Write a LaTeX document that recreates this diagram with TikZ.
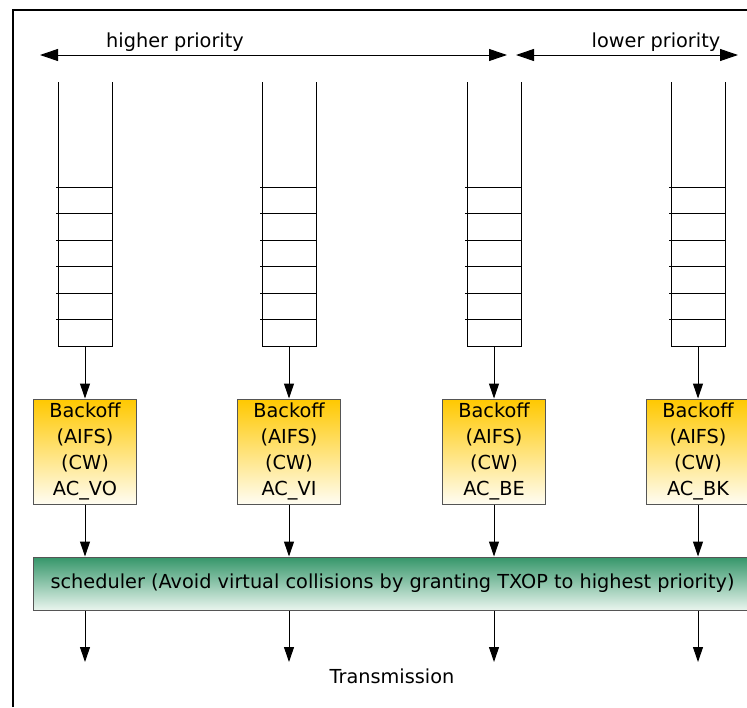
\documentclass[tikz,border=0pt]{standalone}
\usepackage{fontspec}
\setmainfont{DejaVu Sans}
\usetikzlibrary{arrows.meta,positioning,calc}
\definecolor{backoffTop}{HTML}{FFC800}
\definecolor{backoffBottom}{HTML}{FFFDF2}
\definecolor{schedTop}{HTML}{35966A}
\definecolor{schedBottom}{HTML}{E9F5EE}
\definecolor{edgeGray}{HTML}{555555}

\begin{document}
\begin{tikzpicture}[x=1pt, y=-1pt, >={Triangle[length=15pt,width=10pt]}]
\useasboundingbox (0,0) rectangle (747,707);
\tikzset{
  backoffbox/.style={draw=edgeGray, line width=1pt, top color=backoffTop, bottom color=backoffBottom,
    minimum width=103, minimum height=105, inner sep=0pt, align=center,
    font=\fontsize{19.3}{26}\selectfont},
  schedbox/.style={draw=edgeGray, line width=1pt, top color=schedTop, bottom color=schedBottom,
    minimum width=718, minimum height=53, inner sep=0pt, anchor=west,
    font=\fontsize{19.3}{26}\selectfont},
  lbl/.style={font=\fontsize{19.3}{26}\selectfont, inner sep=0pt},
  flow/.style={->, line width=1pt},
  span/.style={{Triangle[length=18pt,width=12pt]}-{Triangle[length=18pt,width=12pt]}, line width=1pt}
}
% frame, cut off at the right
\draw[line width=2pt] (13,707) -- (13,10) -- (760,10);
% priority arrows
\coordinate (hiL) at (40,55);
\coordinate (hiR) at (507,55);
\coordinate (loL) at (516,55);
\coordinate (loR) at (738,55);
\draw[span] (hiL) -- (hiR);
\draw[span] (loL) -- (loR);
\node[lbl] (hitxt) at (175,42) {higher priority};
\node[lbl] (lotxt) at (656,42) {lower priority};
% scheduler
\node[schedbox] (sched) at (33,583.5) {scheduler (Avoid virtual collisions by granting TXOP to highest priority)};
% queues and backoff entities
\foreach \x/\n/\ac in {85/vo/AC\_VO, 289/vi/AC\_VI, 494/be/AC\_BE, 698/bk/AC\_BK} {
  \draw[line width=0.8pt] (\x-27,82) -- (\x-27,346) -- (\x+27,346) -- (\x+27,82);
  \foreach \y in {187,213,240,266,293,319} {\draw[line width=0.8pt] (\x-29,\y) -- (\x+27,\y);}
  \coordinate (q\n) at (\x,346);
  \node[backoffbox] (b\n) at (\x,451.5) {Backoff\\(AIFS)\\(CW)\\\ac};
  \coordinate (t\n) at (\x,662);
  \draw[flow] (q\n) -- (b\n.north);
  \draw[flow] (b\n.south) -- (b\n.south |- sched.north);
  \draw[flow] (b\n.south |- sched.south) -- (t\n);
}
\node[lbl] (txtrans) at (392,676) {Transmission};
\end{tikzpicture}
\end{document}
